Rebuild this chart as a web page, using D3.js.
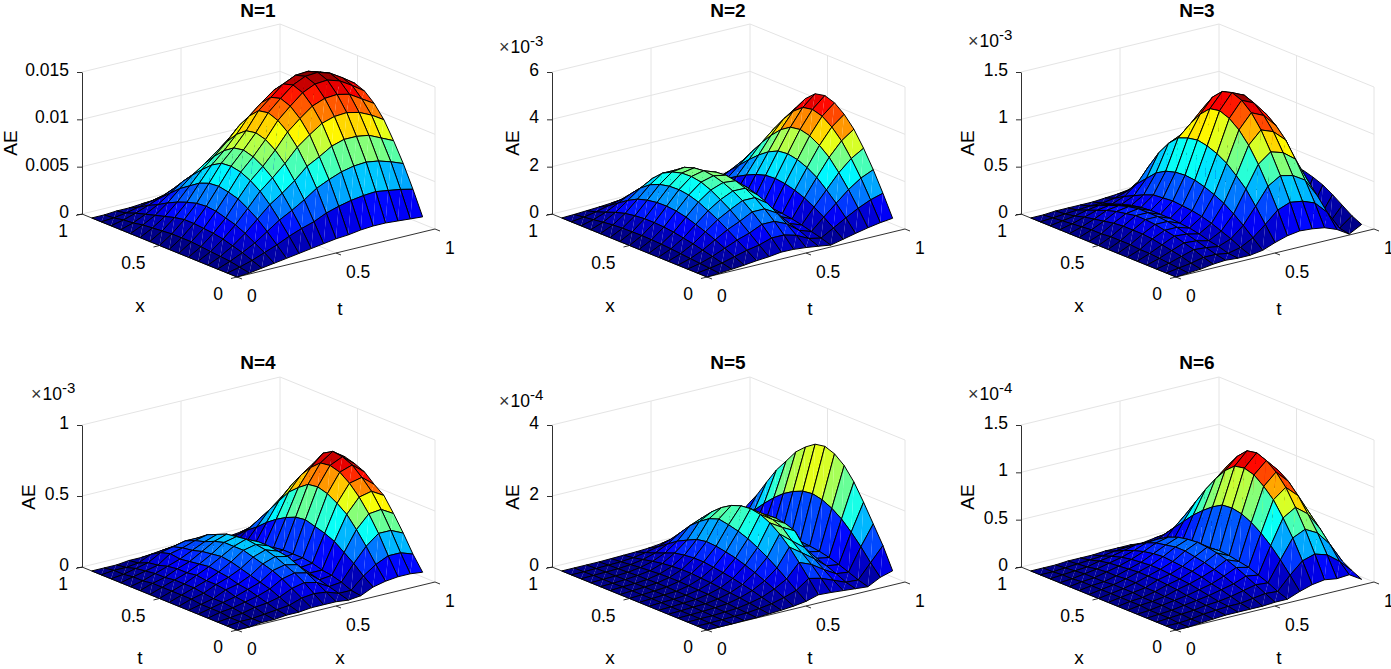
<!DOCTYPE html>
<html>
<head>
<meta charset="utf-8">
<script src="https://cdn.jsdelivr.net/npm/d3@7"></script>
<style>
    body { margin: 0; background: #fff; }
    text { font-family: "Liberation Sans", Arial, sans-serif; fill: #000; }
    .title { font-size: 19px; font-weight: bold; text-anchor: middle; }
    .label { font-size: 19px; text-anchor: middle; }
    .tick-label { font-size: 17.5px; }
</style>
</head>
<body>
<div id="fig"></div>
<script>
// Mesh nodes along both floor axes
var gridNodes = [0, 0.0625, 0.125, 0.1875, 0.25, 0.3125, 0.375, 0.4375, 0.5, 0.5625, 0.625, 0.6875, 0.75, 0.8125, 0.875, 0.9375];

// AE: rows = right floor axis, columns = left floor axis
// N=1, in 1e-4
var aeN1 = [
    [0,0,0,0,0,0,0,0,0,0,0,0,0,0,0,0],
    [1,3,5,6,7,8,9,9,9,8,7,6,4,3,1,0],
    [3,7,11,14,17,19,20,21,21,19,16,13,10,7,3,1],
    [5,12,18,24,29,32,35,36,35,32,28,23,17,12,6,1],
    [7,17,27,36,43,49,52,54,53,49,42,35,26,17,9,2],
    [9,23,36,48,58,65,70,72,71,65,56,46,35,23,12,3],
    [11,28,43,57,69,77,83,86,84,77,67,55,41,28,14,3],
    [13,32,51,67,81,91,98,101,99,91,79,65,48,32,16,4],
    [15,38,60,79,95,107,115,119,117,107,93,76,57,38,19,5],
    [16,42,66,86,105,118,127,131,128,118,102,84,63,42,21,5],
    [18,45,71,94,114,128,138,142,139,128,111,91,68,45,23,6],
    [19,47,74,98,118,133,144,148,145,133,115,95,71,47,24,6],
    [19,48,75,98,119,134,145,149,146,134,116,95,72,48,24,6],
    [18,46,73,96,116,131,141,145,142,131,113,93,70,46,23,6],
    [17,44,69,90,110,123,133,137,134,123,107,88,66,44,22,5],
    [16,41,64,84,102,115,124,128,125,115,100,82,61,41,20,5]
];
// N=2, in 1e-5
var aeN2 = [
    [0,0,0,0,0,0,0,0,0,0,0,0,0,0,0,0],
    [3,7,11,15,19,23,26,28,29,28,27,24,19,13,7,2],
    [7,17,28,38,48,56,64,69,71,71,67,60,48,32,17,5],
    [12,31,50,69,86,101,115,124,128,127,120,108,86,58,30,8],
    [18,45,72,99,125,146,166,179,185,183,174,156,125,84,43,12],
    [22,55,89,122,154,180,204,221,228,226,214,192,154,103,53,14],
    [29,72,113,149,180,204,223,235,240,235,221,192,149,101,48,12],
    [28,72,113,149,180,203,218,225,221,203,176,144,108,72,36,9],
    [23,58,90,119,144,162,175,180,176,162,140,115,86,58,29,7],
    [16,32,50,62,75,84,88,90,88,81,70,58,43,29,14,4],
    [8,21,32,43,52,58,63,65,64,58,51,42,31,21,10,3],
    [20,51,80,106,128,144,155,160,157,144,125,102,77,51,26,6],
    [32,81,126,166,202,227,244,252,247,227,197,161,121,81,40,10],
    [43,109,171,226,274,308,332,342,335,308,267,219,164,109,55,14],
    [52,132,207,273,331,373,402,414,406,373,323,265,199,132,66,17],
    [58,147,230,304,368,414,446,460,451,414,359,294,221,147,74,18]
];
// N=3, in 1e-5
var aeN3 = [
    [0,0,0,0,0,0,0,0,0,0,0,0,0,0,0,0],
    [1,2,3,4,5,5,6,6,6,5,5,4,3,2,1,0],
    [2,4,7,9,11,13,14,14,14,13,11,9,7,4,2,1],
    [4,7,11,14,17,19,21,22,22,20,18,15,11,7,3,1],
    [5,7,10,13,16,19,21,22,22,22,20,17,13,9,4,1],
    [4,5,8,10,13,15,16,17,17,17,16,14,11,7,4,1],
    [4,8,13,17,21,24,26,27,28,27,26,22,17,12,6,2],
    [6,15,24,32,39,44,48,51,52,51,48,42,32,22,10,3],
    [11,26,41,55,65,74,80,84,86,84,80,70,56,38,18,5],
    [15,38,59,78,94,106,114,118,116,106,92,76,57,38,19,5],
    [17,43,67,88,107,121,130,134,131,121,105,86,64,43,21,5],
    [16,41,64,84,102,115,124,128,125,115,100,82,61,41,20,5],
    [14,36,56,74,90,101,109,112,110,101,87,72,54,36,18,4],
    [9,23,36,48,58,65,70,72,71,65,56,46,35,23,12,3],
    [1,3,5,7,8,9,10,10,10,9,8,6,5,3,2,0],
    [8,13,20,27,33,37,40,41,40,37,32,26,20,13,7,2]
];
// N=4, in 1e-5
var aeN4 = [
    [0,0,0,0,0,0,0,0,0,0,0,0,0,0,0,0],
    [0,1,1,2,2,2,3,3,3,3,3,2,2,1,1,0],
    [1,1,2,3,4,4,5,6,6,6,5,5,4,3,1,0],
    [1,2,4,5,6,8,9,9,10,9,9,8,6,5,2,1],
    [2,3,5,7,9,10,12,13,14,13,12,11,12,10,6,1],
    [2,4,7,10,12,14,16,18,19,18,17,15,14,12,7,1],
    [3,7,11,15,18,20,22,24,24,24,22,19,17,14,8,1],
    [3,8,13,17,20,23,25,26,27,26,25,22,19,14,8,1],
    [3,7,11,15,18,21,22,23,23,21,18,15,11,7,4,1],
    [2,4,6,8,10,11,12,12,12,11,9,8,6,4,2,0],
    [3,4,7,9,10,12,13,13,13,12,10,8,6,4,2,1],
    [7,12,18,23,28,31,33,35,34,31,27,22,16,11,5,1],
    [9,18,28,37,45,50,54,56,55,50,44,35,26,17,8,2],
    [10,22,35,46,55,62,67,69,68,62,54,44,33,22,11,3],
    [10,22,35,47,57,64,70,73,74,70,60,48,36,24,12,3],
    [9,19,31,42,52,57,63,66,68,66,57,46,34,22,11,3]
];
// N=5, in 1e-6
var aeN5 = [
    [0,0,0,0,0,0,0,0,0,0,0,0,0,0,0,0],
    [0,0,1,1,1,1,2,2,2,2,2,1,1,1,0,0],
    [0,1,1,2,3,3,3,4,4,4,3,3,2,2,1,0],
    [1,2,3,4,4,5,6,6,7,7,6,6,4,3,2,0],
    [1,3,5,7,9,11,12,13,14,14,13,11,9,6,3,1],
    [3,7,11,15,18,21,24,26,28,28,26,23,18,12,6,2],
    [5,12,19,27,33,39,44,48,52,52,49,44,33,22,12,3],
    [8,21,34,46,58,68,77,83,88,90,85,72,58,39,20,5],
    [13,33,54,74,93,109,123,133,140,145,135,116,93,62,32,9],
    [23,58,92,124,150,170,183,188,185,175,158,135,107,76,38,10],
    [21,50,78,100,122,149,160,165,162,149,129,106,79,53,26,7],
    [18,36,55,75,95,131,141,145,142,131,113,93,70,46,23,6],
    [15,22,35,46,56,63,68,70,69,63,55,45,34,22,11,3],
    [12,20,31,41,50,56,60,62,61,56,48,40,30,20,10,2],
    [30,60,94,124,150,169,182,188,184,172,155,132,105,75,45,15],
    [40,100,150,200,246,281,303,313,308,289,264,227,191,146,99,59]
];
// N=6, in 1e-6
var aeN6 = [
    [0,0,0,0,0,0,0,0,0,0,0,0,0,0,0,0],
    [0,0,1,1,1,2,2,2,2,2,2,2,1,1,0,0],
    [1,1,2,2,3,3,3,4,4,4,3,3,3,2,1,0],
    [2,3,3,4,5,5,6,6,7,7,6,6,5,3,2,1],
    [3,4,5,6,7,9,10,11,11,11,10,9,8,6,3,1],
    [3,5,6,8,10,12,13,14,15,15,14,13,11,8,4,1],
    [3,5,8,11,13,16,18,19,20,21,20,18,15,11,6,2],
    [3,7,11,14,18,21,24,26,28,28,26,24,20,14,7,2],
    [4,9,14,19,24,28,31,33,34,33,31,27,21,14,7,2],
    [4,8,13,17,21,23,25,26,25,23,20,16,12,8,4,1],
    [9,22,34,45,54,61,66,68,67,61,53,44,33,22,11,3],
    [13,34,54,71,86,96,104,107,105,96,83,68,51,34,17,4],
    [15,38,60,79,96,108,116,120,118,108,94,77,58,38,19,5],
    [13,34,53,69,84,95,102,105,103,95,82,67,50,34,17,4],
    [14,24,38,50,61,68,74,76,74,68,59,49,36,24,12,3],
    [6,11,17,22,26,30,32,33,32,30,26,21,16,11,5,1]
];

var panelTitles = ["N=1", "N=2", "N=3", "N=4", "N=5", "N=6"];
var panelData = [aeN1, aeN2, aeN3, aeN4, aeN5, aeN6];
var leftAxisNames = ["x", "x", "x", "t", "x", "x"];
var rightAxisNames = ["t", "t", "t", "x", "t", "t"];
var floorTicks = [0, 0.5, 1];
var floorTickLabels = ["0", "0.5", "1"];

// z ticks in the same units as the arrays above
var zTicks = [[0,50,100,150], [0,200,400,600], [0,50,100,150], [0,50,100], [0,200,400], [0,50,100,150]];
var zTickLabels = [
    ["0","0.005","0.01","0.015"],
    ["0","2","4","6"],
    ["0","0.5","1","1.5"],
    ["0","0.5","1"],
    ["0","2","4"],
    ["0","0.5","1","1.5"]
];
var exponents = [null, "-3", "-3", "-3", "-4", "-4"];

// Page layout of each panel
var frontCorners = [[237,277], [707,277], [1176,277], [237,630], [707,630], [1176,630]];
var titleX = [258, 728, 1197, 258, 728, 1197];
var titleY = [17, 17, 17, 369, 369, 369];
var aeLabelX = [10, 512, 967, 28, 512, 967];
var aeLabelY = [143, 143, 143, 497, 497, 497];
var exponentX = [0, 499, 968, 31, 499, 968];
var exponentY = [0, 53, 47, 400, 407, 400];
var leftLabelY = [35, 35, 35, 34, 34, 34];
var rightLabelY = [38, 38, 38, 34, 34, 34];

var svg = d3.select("#fig").append("svg")
    .attr("width", 1391)
    .attr("height", 669);

// jet colormap, 64 levels
var jetLine = d3.scaleLinear()
    .domain([0, 0.125, 0.375, 0.625, 0.875, 1])
    .range(["#000080", "#0000ff", "#00ffff", "#ffff00", "#ff0000", "#800000"]);

function jet(v) {
    var level = Math.min(63, Math.floor(v * 64));
    return jetLine((level + 0.5) / 64);
}

function drawPanel(p) {
    var data = panelData[p];
    var zTop = d3.max(zTicks[p]);
    var zMax = d3.max(data, function (row) { return d3.max(row); });
    var g = svg.append("g")
        .attr("transform", "translate(" + frontCorners[p][0] + "," + frontCorners[p][1] + ")");

    // -----------------------------------------------------------------------
    // ----------------------------- Scales ----------------------------------
    // -----------------------------------------------------------------------
    var rightX = d3.scaleLinear().domain([0, 1]).range([0, 198]);
    var rightY = d3.scaleLinear().domain([0, 1]).range([0, -48]);
    var leftX = d3.scaleLinear().domain([0, 1]).range([0, -155]);
    var leftY = d3.scaleLinear().domain([0, 1]).range([0, -63]);
    var zScale = d3.scaleLinear().domain([0, zTop]).range([0, -142]);

    function project(u, v, z) {
        return [rightX(u) + leftX(v), rightY(u) + leftY(v) + zScale(z)];
    }
    var line = d3.line();

    // -----------------------------------------------------------------------
    // ------------------------- Box and grid --------------------------------
    // -----------------------------------------------------------------------
    var gridLines = [];
    zTicks[p].forEach(function (z) {
        gridLines.push([project(0, 1, z), project(1, 1, z), project(1, 0, z)]);
    });
    gridLines.push([project(0.5, 1, 0), project(0.5, 1, zTop)]);
    gridLines.push([project(1, 0.5, 0), project(1, 0.5, zTop)]);
    gridLines.push([project(1, 1, 0), project(1, 1, zTop)]);
    gridLines.push([project(1, 0, 0), project(1, 0, zTop)]);
    gridLines.push([project(0.5, 0, 0), project(0.5, 1, 0)]);
    gridLines.push([project(0, 0.5, 0), project(1, 0.5, 0)]);

    g.selectAll("path.grid").data(gridLines).enter().append("path")
        .attr("class", "grid")
        .attr("d", line)
        .attr("fill", "none")
        .attr("stroke", "#e4e4e4")
        .attr("stroke-width", 1);

    // Oblique axes
    var axisLines = [[project(0, 1, 0), project(0, 0, 0), project(1, 0, 0)]];
    floorTicks.forEach(function (tick) {
        var a = project(0, tick, 0);
        axisLines.push([a, [a[0] - 6, a[1] + 1.5]]);
        var b = project(tick, 0, 0);
        axisLines.push([b, [b[0] + 5, b[1] + 2]]);
    });
    g.selectAll("path.axis-line").data(axisLines).enter().append("path")
        .attr("class", "axis-line")
        .attr("d", line)
        .attr("fill", "none")
        .attr("stroke", "#1a1a1a")
        .attr("stroke-width", 0.9);

    floorTicks.forEach(function (tick, k) {
        var a = project(0, tick, 0);
        g.append("text").attr("class", "tick-label")
            .attr("x", a[0] - 14).attr("y", a[1] + 23)
            .attr("text-anchor", "end")
            .text(floorTickLabels[k]);
        var b = project(tick, 0, 0);
        g.append("text").attr("class", "tick-label")
            .attr("x", b[0] + 10).attr("y", b[1] + 25)
            .text(floorTickLabels[k]);
    });

    // z axis
    var zAxis = d3.axisLeft(d3.scaleLinear().domain([0, zTop]).range([-63, -205]))
        .tickValues(zTicks[p])
        .tickFormat(function (d, k) { return zTickLabels[p][k]; })
        .tickSize(5)
        .tickSizeOuter(0)
        .tickPadding(8);
    var zAxisGroup = g.append("g")
        .attr("transform", "translate(-155,0)")
        .call(zAxis);
    zAxisGroup.selectAll("text")
        .attr("class", "tick-label")
        .attr("dy", "0.2em");
    zAxisGroup.selectAll("path, line")
        .attr("stroke", "#1a1a1a")
        .attr("stroke-width", 0.9);

    // -----------------------------------------------------------------------
    // ---------------------------- Surface ----------------------------------
    // -----------------------------------------------------------------------
    // Back to front, each quad is two triangles plus its outline
    var surface = g.append("g");
    for (var i = gridNodes.length - 2; i >= 0; i--) {
        for (var j = gridNodes.length - 2; j >= 0; j--) {
            var a = project(gridNodes[i], gridNodes[j], data[i][j]);
            var b = project(gridNodes[i + 1], gridNodes[j], data[i + 1][j]);
            var c = project(gridNodes[i + 1], gridNodes[j + 1], data[i + 1][j + 1]);
            var d = project(gridNodes[i], gridNodes[j + 1], data[i][j + 1]);
            var color = jet(data[i][j] / zMax);
            surface.append("path").attr("d", line([a, b, c]) + "Z").attr("fill", color);
            surface.append("path").attr("d", line([a, c, d]) + "Z").attr("fill", color);
            surface.append("path").attr("d", line([a, b, c, d]) + "Z")
                .attr("fill", "none")
                .attr("stroke", "#000")
                .attr("stroke-width", 1)
                .attr("stroke-linejoin", "round");
        }
    }

    // -----------------------------------------------------------------------
    // ----------------------------- Labels ----------------------------------
    // -----------------------------------------------------------------------
    g.append("text").attr("class", "label")
        .attr("x", -97).attr("y", leftLabelY[p])
        .text(leftAxisNames[p]);
    g.append("text").attr("class", "label")
        .attr("x", 103).attr("y", rightLabelY[p])
        .text(rightAxisNames[p]);

    svg.append("text").attr("class", "title")
        .attr("x", titleX[p]).attr("y", titleY[p])
        .text(panelTitles[p]);

    svg.append("text").attr("class", "label")
        .attr("transform", "translate(" + (aeLabelX[p] + 7) + "," + aeLabelY[p] + ")rotate(-90)")
        .text("AE");

    if (exponents[p]) {
        var expo = svg.append("text")
            .attr("x", exponentX[p]).attr("y", exponentY[p])
            .attr("font-size", "17.5px");
        expo.append("tspan").attr("fill", "#333").attr("font-size", "18px").text("\u00d7");
        expo.append("tspan").attr("dx", 1).text("10");
        expo.append("tspan").attr("dy", -7).attr("font-size", "15px").text(exponents[p]);
    }
}

panelTitles.forEach(function (title, p) {
    drawPanel(p);
});
</script>
</body>
</html>
